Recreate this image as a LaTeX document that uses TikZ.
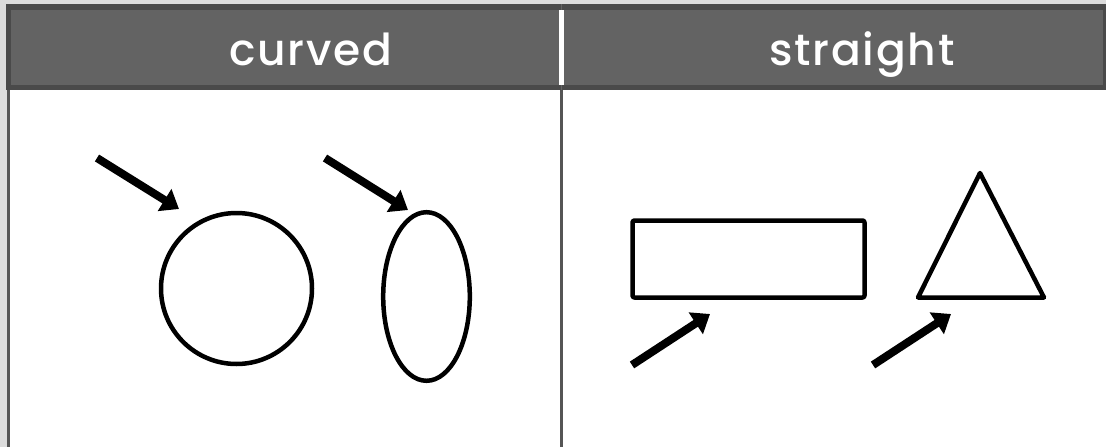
\documentclass[tikz,border=0pt]{standalone}
\usepackage{fontspec}
\setmainfont{Poppins}
\newfontfamily\hdrfont[LetterSpace=4]{Poppins Medium}
\usetikzlibrary{arrows.meta}
\definecolor{bgray}{HTML}{DCDCDC}
\definecolor{hdark}{HTML}{4A4A4A}
\definecolor{hfill}{HTML}{636363}
\definecolor{lgray}{HTML}{555555}
\tikzset{
  shp/.style={draw=black, line width=4.5pt, line join=round},
  arr/.style={draw=black, line width=8pt, -{Triangle[length=17pt,width=25pt]}},
  hdr/.style={text=white, font=\hdrfont\fontsize{44}{53}\selectfont, anchor=base, inner sep=0pt}
}
\begin{document}
\begin{tikzpicture}[x=1pt,y=-1pt]
\useasboundingbox (0,0) rectangle (1106,447);
% background
\fill[bgray] (0,0) rectangle (1106,447);
\fill[white] (10,90) rectangle (1106,447);
% header
\fill[hdark] (6,4.3) rectangle (1106,90);
\fill[hfill] (11,10) rectangle (1103,85);
\fill[white] (559,10) rectangle (564,85);
\draw[hfill, line width=1pt] (561.5,4.3) -- (561.5,10);
\draw[hfill, line width=1pt] (561.5,85) -- (561.5,90);
% body lines
\fill[lgray] (7,90) rectangle (10,447);
\fill[lgray] (560,90) rectangle (563,447);
% header texts
\node[hdr] (tc) at (311,65) {curved};
\node[hdr] (ts) at (862,65) {straight};
% shapes
\node[shp, circle, minimum size=151pt, inner sep=0pt] (circ) at (236.5,288.5) {};
\draw[shp] (426.5,296.5) ellipse [x radius=43.3, y radius=84.3];
\coordinate (ell) at (426.5,296.5);
\node[shp, rectangle, rounded corners=2pt, minimum width=232pt, minimum height=77pt, inner sep=0pt] (rect) at (748.5,259) {};
\coordinate (ta) at (980,173);
\coordinate (tl) at (918,297.5);
\coordinate (tr) at (1044,297.5);
\draw[shp] (ta) -- (tl) -- (tr) -- cycle;
% arrows
\coordinate (a1s) at (97,158);
\coordinate (a1e) at (179,209);
\coordinate (a2s) at (325,158);
\coordinate (a2e) at (408,210);
\coordinate (a3s) at (632,365);
\coordinate (a3e) at (710,314);
\coordinate (a4s) at (873,365);
\coordinate (a4e) at (951,314);
\draw[arr] (a1s) -- (a1e);
\draw[arr] (a2s) -- (a2e);
\draw[arr] (a3s) -- (a3e);
\draw[arr] (a4s) -- (a4e);
\end{tikzpicture}
\end{document}
